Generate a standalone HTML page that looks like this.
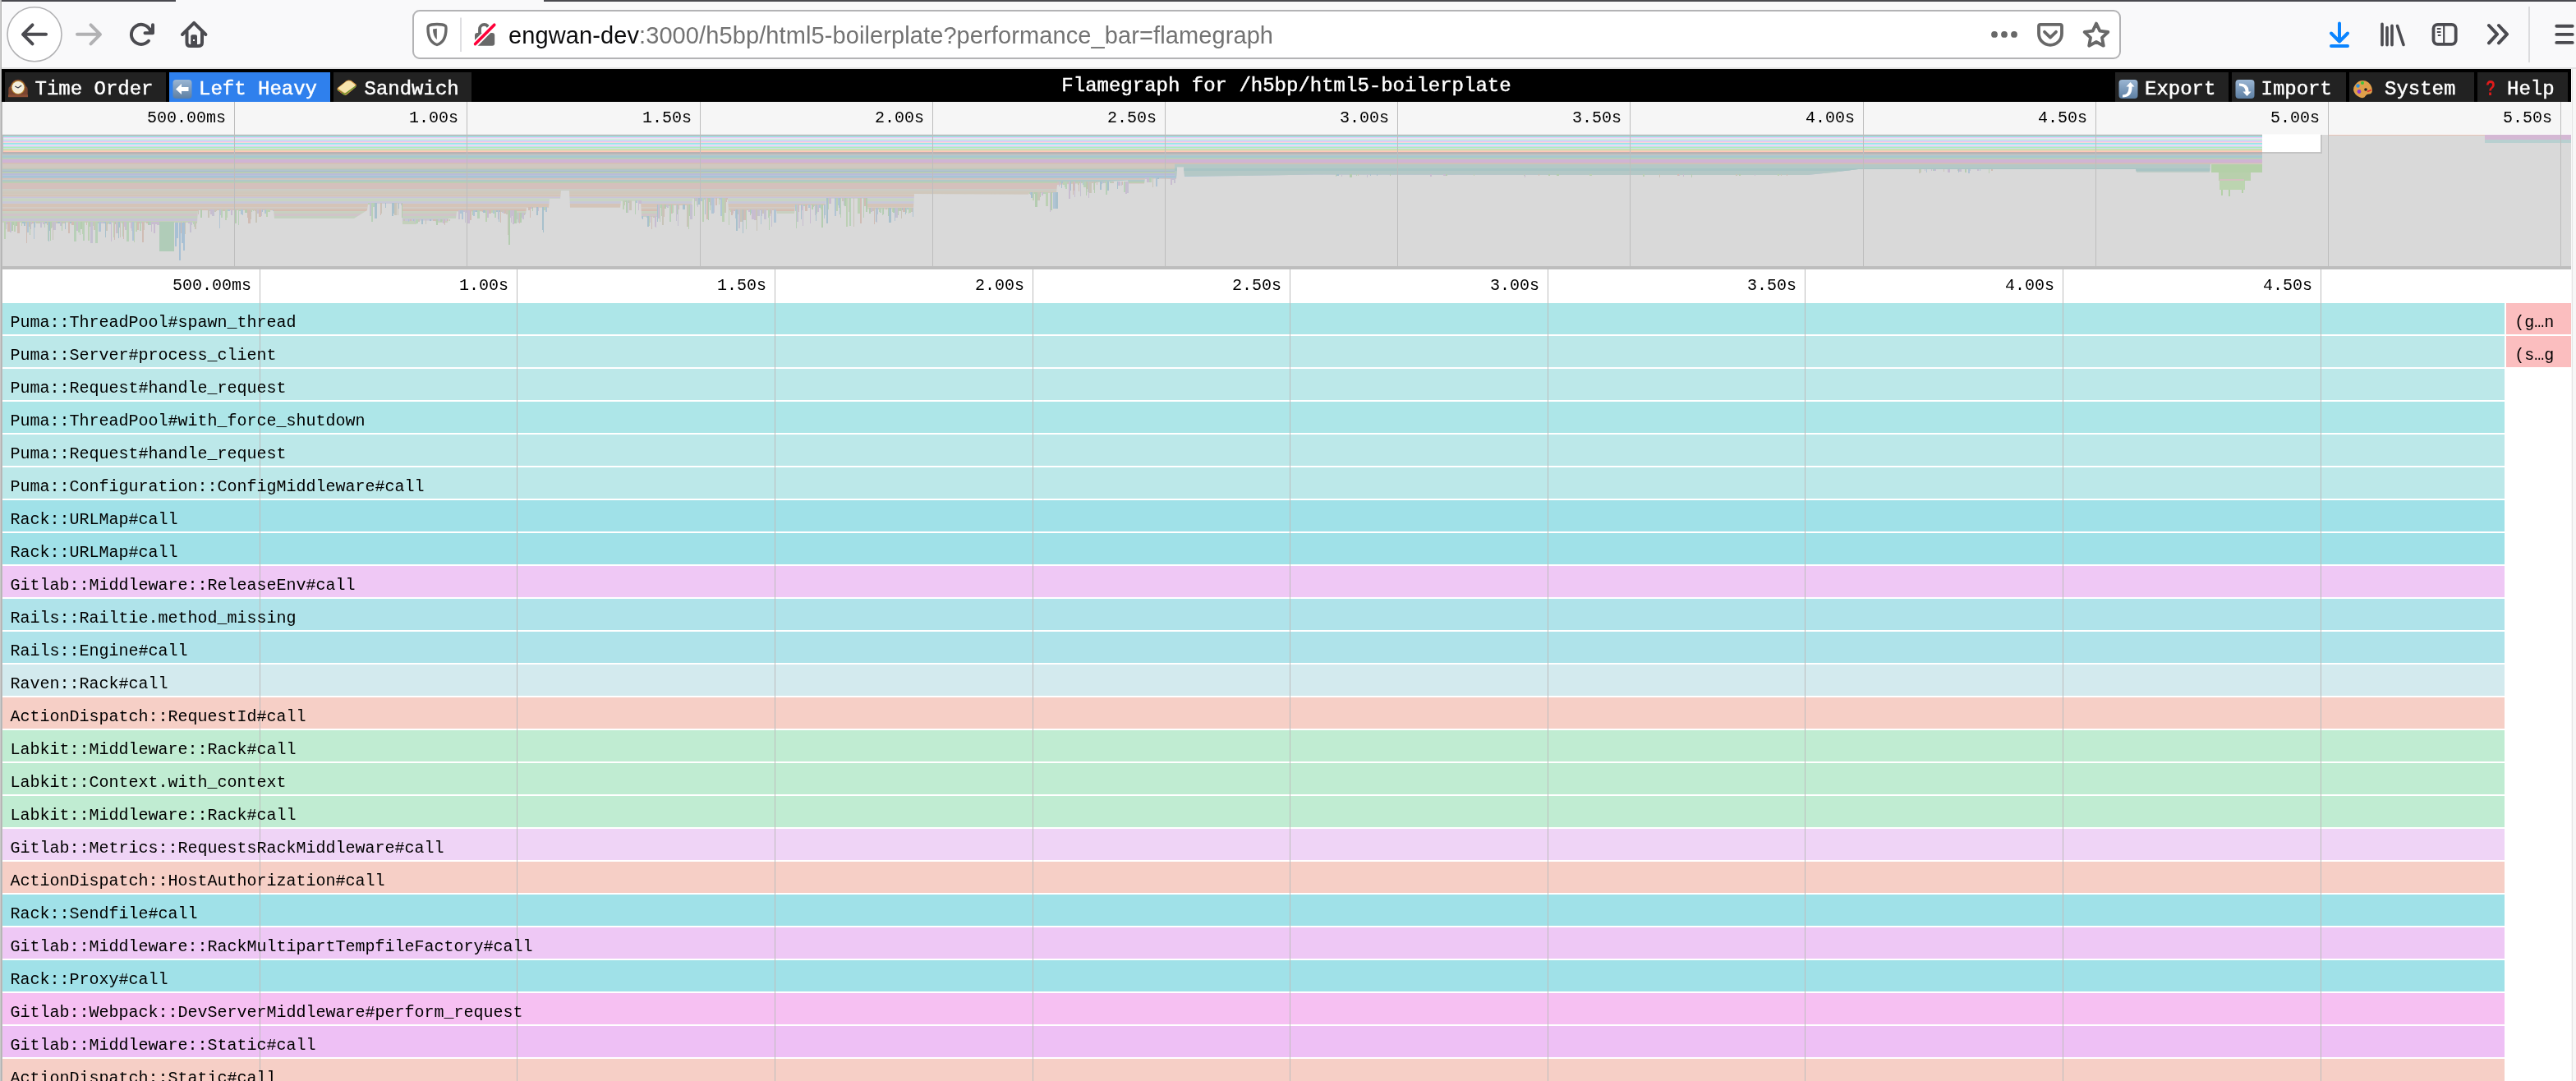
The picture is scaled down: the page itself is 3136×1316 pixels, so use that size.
<!DOCTYPE html><html><head><meta charset="utf-8"><title>Flamegraph</title>
<style>html,body{margin:0;padding:0;background:#f9f9fa;overflow:hidden;width:3136px;height:1316px}svg{display:block}</style>
</head><body>
<svg width="3136" height="1316" viewBox="0 0 3136 1316" shape-rendering="crispEdges">
<g>
<rect x="0" y="0" width="3136" height="84" fill="#f9f9fa"/>
<rect x="0" y="0" width="214" height="2" fill="#4a4a4f"/>
<rect x="662" y="0" width="2474" height="2" fill="#4a4a4f"/>
<rect x="0" y="82" width="3136" height="2" fill="#e1e1e2"/>
<g shape-rendering="geometricPrecision">
<circle cx="42" cy="41.8" r="33" fill="#ffffff" stroke="#b1b1b3" stroke-width="1.6"/>
<path d="M56 41.8 H29 M39.5 30.3 L28 41.8 L39.5 53.3" fill="none" stroke="#4b4b50" stroke-width="4" stroke-linecap="round" stroke-linejoin="round"/>
<path d="M94 41.8 H121 M110.5 30.3 L122 41.8 L110.5 53.3" fill="none" stroke="#b1b1b3" stroke-width="4" stroke-linecap="round" stroke-linejoin="round"/>
<path d="M180.96 49.77 A12 12 0 1 1 182.78 36.83" fill="none" stroke="#4b4b50" stroke-width="4" stroke-linecap="round"/>
<path d="M186 30.2 V40.3 H176.5" fill="none" stroke="#4b4b50" stroke-width="4" stroke-linecap="round" stroke-linejoin="round"/>
<path d="M182.2 35.2 L186 31.2 L186 40.5 L180.6 40.5 Z" fill="#4b4b50"/>
<path d="M222 42 L236.2 27.8 L250.4 42" fill="none" stroke="#4b4b50" stroke-width="4" stroke-linecap="round" stroke-linejoin="round"/>
<path d="M227.5 38 V52 Q227.5 56 231.5 56 H241 Q246 56 246 52 V38" fill="none" stroke="#4b4b50" stroke-width="4" stroke-linejoin="round"/>
<rect x="232.2" y="42.2" width="7.8" height="13" rx="2" fill="#4b4b50"/>
<rect x="235" y="48" width="2" height="2" fill="#f9f9fa"/>
</g>
<rect x="503" y="13" width="2078" height="58" rx="8" fill="#ffffff" stroke="#b3b3b5" stroke-width="2" shape-rendering="geometricPrecision"/>
<g shape-rendering="geometricPrecision">
<path d="M532 29.5 C527 29.5 523 30.5 521.7 31.5 C521.2 32 521 33 521 34.5 C521 44 524 52 532 54.5 C540 52 543 44 543 34.5 C543 33 542.8 32 542.3 31.5 C541 30.5 537 29.5 532 29.5 Z" fill="none" stroke="#686868" stroke-width="3.4" stroke-linejoin="round"/>
<path d="M531.8 34.8 L527 35.6 C527 41 528.5 45.5 531.8 48.2 Z" fill="#686868"/>
<rect x="560.2" y="21.5" width="1.6" height="41.5" fill="#d7d7db"/>
<path d="M584 42 V35.5 A5.6 5.6 0 0 1 595.2 35.5 V42" fill="none" stroke="#686868" stroke-width="3.8"/>
<rect x="578" y="40" width="24.2" height="15.8" rx="3" fill="#686868"/>
<path d="M578.6 53.6 L601.8 30.2" stroke="#ffffff" stroke-width="7.5" stroke-linecap="round"/>
<path d="M578.6 53.6 L601.8 30.2" stroke="#ff0039" stroke-width="3.6" stroke-linecap="round"/>
</g>
<g shape-rendering="geometricPrecision" fill="#686868">
<circle cx="2428" cy="41.9" r="3.9"/>
<circle cx="2440" cy="41.9" r="3.9"/>
<circle cx="2452" cy="41.9" r="3.9"/>
</g>
<g shape-rendering="geometricPrecision" fill="none" stroke="#686868" stroke-width="3.8" stroke-linecap="round" stroke-linejoin="round">
<path d="M2484 29.8 H2508 Q2510 29.8 2510 31.8 V41 A14 13.8 0 0 1 2482 41 V31.8 Q2482 29.8 2484 29.8 Z" transform="translate(0,0)"/>
<path d="M2489 38.8 L2496 45.6 L2503 38.8"/>
<path d="M2552.0,28.6 L2556.3,37.6 L2566.3,39.0 L2559.0,45.9 L2560.8,55.7 L2552.0,51.0 L2543.2,55.7 L2545.0,45.9 L2537.7,39.0 L2547.7,37.6 Z"/>
</g>
<g shape-rendering="geometricPrecision" fill="none" stroke-linecap="round" stroke-linejoin="round" stroke-width="4">
<path d="M2848 28.5 V50 M2838 40.5 L2848 50.5 L2858 40.5 M2838 56 H2858" stroke="#0a84ff"/>
<path d="M2900 29.3 V54.7 M2906 33.5 V54.7 M2912 31.2 V54.7 M2918.5 31.5 L2926 54.5" stroke="#4b4b50" stroke-width="3.6"/>
<rect x="2962.5" y="29.8" width="27.2" height="24" rx="5" stroke="#4b4b50" stroke-width="3.8"/>
<path d="M2975.2 30 V54" stroke="#4b4b50" stroke-width="2.2"/>
<path d="M2966.8 35 H2971.5 M2966.8 39 H2971.5 M2967.8 43 H2971.5" stroke="#4b4b50" stroke-width="1.8" stroke-linecap="butt"/>
<path d="M3030 31 L3040 41.7 L3030 52.4 M3042 31 L3052 41.7 L3042 52.4" stroke="#4b4b50" stroke-width="4"/>
</g>
<rect x="3078.3" y="8" width="1.4" height="68" fill="#dcdcde"/>
<g shape-rendering="geometricPrecision" stroke="#4b4b50" stroke-width="3.9" stroke-linecap="round"><path d="M3112.3 31.8 H3131.7 M3112.3 41.9 H3131.7 M3112.3 51.9 H3131.7"/></g>
<rect x="3130" y="84" width="6" height="1232" fill="#f7f7f7"/>
<rect x="3131" y="84" width="1" height="1232" fill="#e4e4e4"/>
<rect x="0" y="0" width="1" height="1316" fill="#cbcbcb"/>
<rect x="1" y="0" width="1" height="1316" fill="#b2b2b2"/>
<rect x="2" y="2" width="1" height="80" fill="#ffffff"/>
<rect x="2" y="124" width="1" height="1192" fill="#bdbdbd"/>
<rect x="2" y="84" width="3128" height="40" fill="#000000"/>
<rect x="6" y="88" width="196" height="36" fill="#222222"/>
<rect x="206" y="88" width="196" height="36" fill="#2f80ed"/>
<rect x="406" y="88" width="168" height="36" fill="#222222"/>
<rect x="2575" y="88" width="138" height="36" fill="#222222"/>
<rect x="2717" y="88" width="139" height="36" fill="#222222"/>
<rect x="2860" y="88" width="152" height="36" fill="#222222"/>
<rect x="3016" y="88" width="110" height="36" fill="#222222"/>
<g shape-rendering="geometricPrecision" transform="translate(10,96.5)"><path d="M0.3 21.6 V12 Q0.3 9.5 2 8.8 L3 7.2 Q5.5 0.4 12 0.2 Q18.5 0.4 21 7.2 L22 8.8 Q23.7 9.5 23.7 12 V21.6 Z" fill="#7a4530"/><rect x="0" y="18.8" width="24" height="2.9" fill="#8c4f36"/><circle cx="12" cy="10" r="8.4" fill="#b8862c"/><circle cx="12" cy="10" r="7.4" fill="#f3eedc"/><path d="M12 10.6 L8.3 8.4 M12 10.6 L16.2 7.6" stroke="#3a3c48" stroke-width="1.2" fill="none"/></g>
<g shape-rendering="geometricPrecision" transform="translate(210,96.5)"><defs><linearGradient id="bgleft" x1="0" y1="0" x2="0" y2="1"><stop offset="0" stop-color="#9bb6d3"/><stop offset="1" stop-color="#5d7fa3"/></linearGradient></defs><rect x="0.5" y="0.5" width="23" height="23" rx="4" fill="url(#bgleft)"/><path d="M4 12 L11 5.5 V9.5 H19.5 V14.5 H11 V18.5 Z" fill="#ffffff"/></g>
<g shape-rendering="geometricPrecision" transform="translate(410,96.5)"><path d="M0.8 10.5 L11.5 2 Q14.5 0 17.5 1.6 L23 5.8 Q24.6 7.6 23.2 9.6 L12.6 18.6 Q10.4 20.2 8.2 18.8 L1.6 14 Q-0.4 12.4 0.8 10.5 Z" fill="#d89a48"/><path d="M2.2 10.2 L12 2.6 Q14.6 1.2 17 2.6 L21.8 6.2 Q22.8 7.6 21.6 8.8 L11.8 15.8 Q10 17 8.2 15.8 L2.6 12 Q1.4 11.2 2.2 10.2 Z" fill="#f7e4ae"/><path d="M1.6 13.2 L9.6 18.4 L23 8.6" stroke="#5f9a34" stroke-width="1.3" fill="none"/><path d="M3 14.6 L6 16.6" stroke="#d24a3a" stroke-width="1" fill="none"/></g>
<g shape-rendering="geometricPrecision" transform="translate(2579,96.5)"><defs><linearGradient id="bgexport" x1="0" y1="0" x2="0" y2="1"><stop offset="0" stop-color="#9bb6d3"/><stop offset="1" stop-color="#5d7fa3"/></linearGradient></defs><rect x="0.5" y="0.5" width="23" height="23" rx="4" fill="url(#bgexport)"/><path d="M5 19 Q12 19 12.5 11 L12.5 9 L9.5 9 L14.5 3.5 L19.5 9 L16.5 9 L16.5 11 Q16 22 5 22 Z" fill="#ffffff"/></g>
<g shape-rendering="geometricPrecision" transform="translate(2721,96.5)"><defs><linearGradient id="bgimport" x1="0" y1="0" x2="0" y2="1"><stop offset="0" stop-color="#9bb6d3"/><stop offset="1" stop-color="#5d7fa3"/></linearGradient></defs><rect x="0.5" y="0.5" width="23" height="23" rx="4" fill="url(#bgimport)"/><path d="M5 5 Q16 5 16.5 14 L16.5 15 L19.5 15 L14.5 20.5 L9.5 15 L12.5 15 L12.5 14 Q12 8 5 8 Z" fill="#ffffff"/></g>
<g shape-rendering="geometricPrecision" transform="translate(2864,96.5)"><path d="M3 7 Q8 0 16 2 Q23 5 24 13 Q24 18 20 18 Q17 18 16 20 Q14 24 9 22 Q2 19 1 13 Q1 9 3 7 Z" fill="#e0a04a"/><circle cx="6.5" cy="8" r="2.2" fill="#2f8fe0"/><circle cx="12" cy="4.5" r="2" fill="#3cc43c"/><circle cx="8" cy="15" r="2.4" fill="#8a3ad0"/><circle cx="16" cy="12.5" r="1.8" fill="#222"/><path d="M18 15 L23 13" stroke="#e03030" stroke-width="1.5"/></g>
<g shape-rendering="geometricPrecision" transform="translate(3026,96.5)"></g>
<rect x="3" y="124" width="3127" height="40" fill="#f6f6f6"/>
<rect x="3" y="163" width="3127" height="1" fill="#fbfbfb"/>
<rect x="3" y="164" width="3127" height="160" fill="#d9d9d9"/>
<rect x="3" y="164" width="2823" height="22" fill="#ffffff"/>
<rect x="3" y="163.8" width="2751" height="2.0" fill="#b0b8b8" shape-rendering="geometricPrecision"/>
<rect x="3" y="165.8" width="2751" height="1.2" fill="#98e4e8" shape-rendering="geometricPrecision"/>
<rect x="3" y="167.0" width="2751" height="1.3" fill="#f0c8f4" shape-rendering="geometricPrecision"/>
<rect x="3" y="168.3" width="2751" height="0.8" fill="#d8ecf0" shape-rendering="geometricPrecision"/>
<rect x="3" y="169.1" width="2751" height="0.8" fill="#c0ecd0" shape-rendering="geometricPrecision"/>
<rect x="3" y="169.9" width="2751" height="0.9" fill="#e8d4f0" shape-rendering="geometricPrecision"/>
<rect x="3" y="170.8" width="2751" height="1.0" fill="#98e0e8" shape-rendering="geometricPrecision"/>
<rect x="3" y="171.8" width="2751" height="1.4" fill="#f8c0f0" shape-rendering="geometricPrecision"/>
<rect x="3" y="173.2" width="2751" height="0.7" fill="#f8d0c8" shape-rendering="geometricPrecision"/>
<rect x="3" y="173.9" width="2751" height="2.0" fill="#98e4e8" shape-rendering="geometricPrecision"/>
<rect x="3" y="175.9" width="2751" height="0.8" fill="#d0ecf0" shape-rendering="geometricPrecision"/>
<rect x="3" y="176.7" width="2751" height="1.3" fill="#f0ccf4" shape-rendering="geometricPrecision"/>
<rect x="3" y="178.0" width="2751" height="0.8" fill="#b0e0f0" shape-rendering="geometricPrecision"/>
<rect x="3" y="178.8" width="2751" height="1.2" fill="#b0ecb8" shape-rendering="geometricPrecision"/>
<rect x="3" y="180.0" width="2751" height="0.9" fill="#b0e4f0" shape-rendering="geometricPrecision"/>
<rect x="3" y="180.9" width="2751" height="1.0" fill="#f8d0c0" shape-rendering="geometricPrecision"/>
<rect x="3" y="181.9" width="2751" height="1.2" fill="#a8e8a0" shape-rendering="geometricPrecision"/>
<rect x="3" y="183.1" width="2751" height="1.9" fill="#fcc8b8" shape-rendering="geometricPrecision"/>
<defs><clipPath id="prof"><path d="M3,185 L3,271.0 L194,271.0 L240,271.0 L241,256.0 L333,256.0 L334,266.0 L431,266.0 L447,256.0 L448,248.0 L489,248.0 L490,273.0 L507,273.0 L508,268.5 L530,268.5 L531,271.0 L545,271.0 L546,266.0 L555,266.0 L556,257.6 L628,257.6 L629,260.7 L640,260.7 L641,253.0 L668,253.0 L669,242.0 L682,242.0 L683,232.0 L693,232.0 L694,253.0 L755,253.0 L756,245.0 L780,245.0 L781,264.0 L800,264.0 L801,250.0 L842,250.0 L843,242.0 L886,242.0 L887,256.0 L945,256.0 L946,260.0 L967,260.0 L968,250.0 L1005,250.0 L1006,242.0 L1055,242.0 L1056,254.5 L1112,254.5 L1113,236.0 L1252,236.7 L1253,235.0 L1286,235.0 L1287,225.0 L1373,219.6 L1374,223.5 L1393,223.5 L1394,217.3 L1432,218.0 L1433,203.3 L1441,203.3 L1442,215.0 L1600,212.6 L2200,213.0 L2230,210.0 L2262,206.0 L2600,206.0 L2601,209.5 L2690,209.5 L2691,199.5 L2754,199.5 L2754,185.0 L3,185 Z"/></clipPath></defs>
<g clip-path="url(#prof)" shape-rendering="geometricPrecision">
<rect x="3" y="185.0" width="2751" height="2.0" fill="#bcb0b0"/>
<rect x="3" y="187.0" width="2751" height="1.1" fill="#a8c4c8"/>
<rect x="3" y="188.1" width="2751" height="1.0" fill="#d0bcb8"/>
<rect x="3" y="189.1" width="2751" height="3.1" fill="#a8c8d0"/>
<rect x="3" y="192.2" width="2751" height="1.6" fill="#b0d0b0"/>
<rect x="3" y="193.8" width="2751" height="4.2" fill="#d0b4d4"/>
<rect x="3" y="198.0" width="2751" height="1.8" fill="#d4bcb4"/>
<rect x="3" y="199.8" width="2751" height="4.6" fill="#d0c8c0"/>
<rect x="3" y="204.4" width="2751" height="1.4" fill="#c8c0b0"/>
<rect x="3" y="205.8" width="2751" height="1.6" fill="#b0c8c4"/>
<rect x="3" y="207.4" width="2751" height="1.6" fill="#a8bcd0"/>
<rect x="3" y="209.0" width="2751" height="1.9" fill="#b8ccb0"/>
<rect x="3" y="210.9" width="2751" height="2.8" fill="#b8bcd8"/>
<rect x="3" y="213.7" width="2751" height="3.2" fill="#a8c4d4"/>
<rect x="3" y="216.9" width="2751" height="1.8" fill="#d8c0b8"/>
<rect x="3" y="218.7" width="2751" height="2.3" fill="#b0c8c8"/>
<rect x="3" y="221.0" width="2751" height="1.9" fill="#b8ccb0"/>
<rect x="3" y="222.9" width="2751" height="7.4" fill="#d4c0bc"/>
<rect x="3" y="230.3" width="2751" height="1.9" fill="#c8ccc4"/>
<rect x="3" y="232.2" width="2751" height="4.6" fill="#d0c8bc"/>
<rect x="3" y="236.8" width="2751" height="2.8" fill="#d4c4b8"/>
<rect x="3" y="239.6" width="2751" height="1.8" fill="#c8c4d8"/>
<rect x="3" y="241.4" width="2751" height="3.7" fill="#c8d4c4"/>
<rect x="3" y="245.1" width="2751" height="2.8" fill="#c8c8d8"/>
<rect x="3" y="247.9" width="2751" height="4.6" fill="#d4c4b8"/>
<rect x="3" y="252.5" width="2751" height="1.9" fill="#d0c8c0"/>
<rect x="3" y="254.4" width="2751" height="2.7" fill="#d4bcb0"/>
<rect x="3" y="257.1" width="2751" height="2.9" fill="#c8d0c0"/>
<rect x="3" y="260.0" width="2751" height="3.0" fill="#d0c4c8"/>
<rect x="3" y="263.0" width="2751" height="3.0" fill="#c4d0c0"/>
<rect x="3" y="266.0" width="2751" height="3.0" fill="#c8c4d4"/>
<rect x="3" y="269.0" width="2751" height="4.0" fill="#c4d0bc"/>
<rect x="3" y="273.0" width="2751" height="7.0" fill="#b8ccb8"/>
<rect x="3" y="280.0" width="2751" height="20.0" fill="#b0ccb0"/>
<rect x="1430" y="199.8" width="1324" height="14.5" fill="#b4c8c6"/>
<rect x="1430" y="205" width="1324" height="3" fill="#a8c4c4"/>
</g>
<g shape-rendering="crispEdges">
<rect x="5" y="270" width="2" height="21" fill="#bcd0b4"/>
<rect x="7" y="270" width="1" height="9" fill="#c4c0d0"/>
<rect x="8" y="270" width="1" height="3" fill="#c8bcd0"/>
<rect x="9" y="270" width="3" height="12" fill="#d0bcb4"/>
<rect x="12" y="270" width="2" height="13" fill="#c4c0d0"/>
<rect x="14" y="270" width="2" height="11" fill="#b4ccb0"/>
<rect x="16" y="270" width="1" height="4" fill="#b4ccb0"/>
<rect x="17" y="270" width="2" height="12" fill="#bcd0b4"/>
<rect x="19" y="270" width="2" height="5" fill="#b4ccb0"/>
<rect x="21" y="270" width="3" height="14" fill="#d0bcb4"/>
<rect x="26" y="270" width="1" height="5" fill="#bcd0b4"/>
<rect x="27" y="270" width="2" height="2" fill="#a8c0cc"/>
<rect x="29" y="270" width="2" height="5" fill="#a8c0cc"/>
<rect x="31" y="270" width="1" height="2" fill="#bcd0b4"/>
<rect x="32" y="270" width="1" height="26" fill="#d0bcb4"/>
<rect x="33" y="270" width="2" height="13" fill="#b0c4d4"/>
<rect x="35" y="270" width="1" height="6" fill="#d0bcb4"/>
<rect x="36" y="270" width="1" height="16" fill="#b4ccb0"/>
<rect x="37" y="270" width="1" height="9" fill="#c8bcd0"/>
<rect x="38" y="270" width="1" height="3" fill="#c4c0d0"/>
<rect x="39" y="270" width="2" height="2" fill="#d0bcb4"/>
<rect x="41" y="270" width="1" height="21" fill="#b0c4d4"/>
<rect x="42" y="270" width="1" height="7" fill="#a8c0cc"/>
<rect x="44" y="270" width="1" height="2" fill="#c8c4b8"/>
<rect x="45" y="270" width="1" height="2" fill="#bcd0b4"/>
<rect x="46" y="270" width="2" height="2" fill="#c8c4b8"/>
<rect x="48" y="270" width="1" height="2" fill="#b8d0b8"/>
<rect x="49" y="270" width="2" height="7" fill="#c4c0d0"/>
<rect x="52" y="270" width="2" height="3" fill="#c8bcd0"/>
<rect x="54" y="270" width="1" height="7" fill="#b8d0b8"/>
<rect x="55" y="270" width="2" height="2" fill="#a8c0cc"/>
<rect x="57" y="270" width="1" height="4" fill="#d0bcb4"/>
<rect x="58" y="270" width="1" height="23" fill="#b8d0b8"/>
<rect x="59" y="270" width="1" height="24" fill="#a8c0cc"/>
<rect x="60" y="270" width="1" height="11" fill="#a8c0cc"/>
<rect x="61" y="270" width="1" height="23" fill="#b4ccb0"/>
<rect x="62" y="270" width="1" height="8" fill="#b4ccb0"/>
<rect x="63" y="270" width="1" height="7" fill="#c4c0d0"/>
<rect x="64" y="270" width="1" height="22" fill="#c8c4b8"/>
<rect x="65" y="270" width="3" height="10" fill="#c4c0d0"/>
<rect x="68" y="270" width="2" height="2" fill="#c8c4b8"/>
<rect x="70" y="270" width="3" height="2" fill="#a8c0cc"/>
<rect x="73" y="270" width="2" height="5" fill="#c4c0d0"/>
<rect x="75" y="270" width="1" height="11" fill="#b4ccb0"/>
<rect x="76" y="270" width="3" height="2" fill="#c8c4b8"/>
<rect x="79" y="270" width="1" height="9" fill="#a8c0cc"/>
<rect x="83" y="270" width="2" height="14" fill="#d0bcb4"/>
<rect x="85" y="270" width="2" height="2" fill="#a8c0cc"/>
<rect x="87" y="270" width="3" height="4" fill="#d0bcb4"/>
<rect x="90" y="270" width="3" height="24" fill="#b8d0b8"/>
<rect x="93" y="270" width="2" height="11" fill="#c8bcd0"/>
<rect x="95" y="270" width="2" height="13" fill="#b8d0b8"/>
<rect x="97" y="270" width="1" height="16" fill="#b8d0b8"/>
<rect x="98" y="270" width="2" height="9" fill="#b4ccb0"/>
<rect x="100" y="270" width="1" height="15" fill="#bcd0b4"/>
<rect x="101" y="270" width="2" height="23" fill="#b8d0b8"/>
<rect x="105" y="270" width="1" height="4" fill="#d0bcb4"/>
<rect x="107" y="270" width="2" height="23" fill="#bcd0b4"/>
<rect x="109" y="270" width="1" height="6" fill="#b4ccb0"/>
<rect x="110" y="270" width="3" height="26" fill="#c4c0d0"/>
<rect x="113" y="270" width="1" height="5" fill="#bcd0b4"/>
<rect x="114" y="270" width="2" height="10" fill="#c8c4b8"/>
<rect x="116" y="270" width="3" height="26" fill="#b8d0b8"/>
<rect x="119" y="270" width="1" height="2" fill="#b4ccb0"/>
<rect x="120" y="270" width="3" height="12" fill="#b0c4d4"/>
<rect x="123" y="270" width="3" height="2" fill="#c4c0d0"/>
<rect x="126" y="270" width="2" height="2" fill="#b0c4d4"/>
<rect x="128" y="270" width="1" height="19" fill="#a8c0cc"/>
<rect x="129" y="270" width="2" height="11" fill="#c8c4b8"/>
<rect x="131" y="270" width="1" height="3" fill="#b8d0b8"/>
<rect x="132" y="270" width="1" height="2" fill="#b8d0b8"/>
<rect x="133" y="270" width="2" height="3" fill="#b0c4d4"/>
<rect x="135" y="270" width="1" height="24" fill="#c8bcd0"/>
<rect x="138" y="270" width="1" height="19" fill="#bcd0b4"/>
<rect x="139" y="270" width="1" height="22" fill="#d0bcb4"/>
<rect x="140" y="270" width="1" height="3" fill="#b4ccb0"/>
<rect x="141" y="270" width="2" height="14" fill="#c8bcd0"/>
<rect x="143" y="270" width="1" height="14" fill="#bcd0b4"/>
<rect x="144" y="270" width="1" height="20" fill="#a8c0cc"/>
<rect x="145" y="270" width="1" height="7" fill="#a8c0cc"/>
<rect x="146" y="270" width="1" height="19" fill="#c8c4b8"/>
<rect x="148" y="270" width="1" height="2" fill="#b8d0b8"/>
<rect x="149" y="270" width="1" height="18" fill="#b8d0b8"/>
<rect x="150" y="270" width="1" height="21" fill="#d0bcb4"/>
<rect x="151" y="270" width="1" height="6" fill="#c4c0d0"/>
<rect x="152" y="270" width="2" height="10" fill="#c8bcd0"/>
<rect x="154" y="270" width="3" height="24" fill="#b8d0b8"/>
<rect x="159" y="270" width="1" height="8" fill="#c8bcd0"/>
<rect x="160" y="270" width="1" height="11" fill="#c4c0d0"/>
<rect x="161" y="270" width="2" height="23" fill="#b0c4d4"/>
<rect x="163" y="270" width="1" height="25" fill="#bcd0b4"/>
<rect x="165" y="270" width="2" height="12" fill="#bcd0b4"/>
<rect x="167" y="270" width="2" height="10" fill="#d0bcb4"/>
<rect x="169" y="270" width="1" height="2" fill="#d0bcb4"/>
<rect x="170" y="270" width="2" height="11" fill="#b8d0b8"/>
<rect x="172" y="270" width="1" height="2" fill="#c8bcd0"/>
<rect x="173" y="270" width="2" height="25" fill="#d0bcb4"/>
<rect x="175" y="270" width="1" height="10" fill="#c8c4b8"/>
<rect x="178" y="270" width="2" height="2" fill="#d0bcb4"/>
<rect x="180" y="270" width="2" height="4" fill="#b4ccb0"/>
<rect x="182" y="270" width="1" height="4" fill="#b0c4d4"/>
<rect x="183" y="270" width="1" height="4" fill="#b8d0b8"/>
<rect x="184" y="270" width="1" height="12" fill="#c8bcd0"/>
<rect x="185" y="270" width="2" height="3" fill="#c8bcd0"/>
<rect x="187" y="270" width="2" height="14" fill="#c8bcd0"/>
<rect x="189" y="270" width="2" height="3" fill="#c8bcd0"/>
<rect x="191" y="270" width="3" height="4" fill="#c8bcd0"/>
<rect x="214" y="270" width="1" height="30" fill="#c8c4b8"/>
<rect x="215" y="270" width="1" height="9" fill="#bcd0b4"/>
<rect x="220" y="270" width="1" height="14" fill="#d0bcb4"/>
<rect x="223" y="270" width="1" height="23" fill="#b4ccb0"/>
<rect x="224" y="270" width="1" height="26" fill="#c8c4b8"/>
<rect x="225" y="270" width="1" height="15" fill="#c8c4b8"/>
<rect x="229" y="270" width="2" height="2" fill="#c8bcd0"/>
<rect x="231" y="270" width="2" height="13" fill="#c4c0d0"/>
<rect x="233" y="270" width="1" height="4" fill="#c4c0d0"/>
<rect x="235" y="270" width="1" height="3" fill="#b8d0b8"/>
<rect x="236" y="270" width="1" height="6" fill="#b8d0b8"/>
<rect x="237" y="270" width="2" height="9" fill="#c8c4b8"/>
<rect x="239" y="270" width="1" height="2" fill="#bcd0b4"/>
<rect x="241" y="255" width="1" height="6" fill="#c8c4b8"/>
<rect x="244" y="255" width="2" height="10" fill="#b4ccb0"/>
<rect x="253" y="255" width="2" height="10" fill="#c8c4b8"/>
<rect x="255" y="255" width="1" height="2" fill="#c4c0d0"/>
<rect x="256" y="255" width="2" height="6" fill="#c8bcd0"/>
<rect x="258" y="255" width="3" height="8" fill="#c4c0d0"/>
<rect x="261" y="255" width="2" height="3" fill="#c8c4b8"/>
<rect x="263" y="255" width="1" height="2" fill="#c8c4b8"/>
<rect x="267" y="255" width="1" height="23" fill="#b0c4d4"/>
<rect x="268" y="255" width="1" height="7" fill="#c4c0d0"/>
<rect x="269" y="255" width="2" height="10" fill="#b8d0b8"/>
<rect x="271" y="255" width="3" height="2" fill="#d0bcb4"/>
<rect x="274" y="255" width="2" height="13" fill="#bcd0b4"/>
<rect x="276" y="255" width="1" height="10" fill="#bcd0b4"/>
<rect x="277" y="255" width="3" height="2" fill="#b0c4d4"/>
<rect x="281" y="255" width="2" height="7" fill="#c8bcd0"/>
<rect x="285" y="255" width="1" height="19" fill="#a8c0cc"/>
<rect x="286" y="255" width="2" height="17" fill="#b4ccb0"/>
<rect x="290" y="255" width="1" height="19" fill="#b8d0b8"/>
<rect x="291" y="255" width="2" height="2" fill="#b8d0b8"/>
<rect x="293" y="255" width="2" height="6" fill="#b0c4d4"/>
<rect x="295" y="255" width="1" height="7" fill="#b0c4d4"/>
<rect x="298" y="255" width="3" height="4" fill="#b4ccb0"/>
<rect x="301" y="255" width="1" height="10" fill="#d0bcb4"/>
<rect x="302" y="255" width="3" height="17" fill="#d0bcb4"/>
<rect x="305" y="255" width="1" height="12" fill="#c8c4b8"/>
<rect x="306" y="255" width="1" height="3" fill="#b8d0b8"/>
<rect x="308" y="255" width="1" height="2" fill="#b8d0b8"/>
<rect x="310" y="255" width="1" height="2" fill="#d0bcb4"/>
<rect x="311" y="255" width="2" height="16" fill="#c8c4b8"/>
<rect x="313" y="255" width="2" height="5" fill="#c4c0d0"/>
<rect x="315" y="255" width="3" height="9" fill="#d0bcb4"/>
<rect x="318" y="255" width="1" height="8" fill="#c4c0d0"/>
<rect x="319" y="255" width="1" height="3" fill="#a8c0cc"/>
<rect x="322" y="255" width="2" height="5" fill="#b0c4d4"/>
<rect x="324" y="255" width="2" height="9" fill="#bcd0b4"/>
<rect x="326" y="255" width="3" height="3" fill="#bcd0b4"/>
<rect x="332" y="255" width="1" height="2" fill="#b0c4d4"/>
<rect x="448" y="247" width="2" height="2" fill="#bcd0b4"/>
<rect x="450" y="247" width="2" height="16" fill="#c4c0d0"/>
<rect x="452" y="247" width="2" height="23" fill="#b8d0b8"/>
<rect x="454" y="247" width="2" height="5" fill="#b8d0b8"/>
<rect x="456" y="247" width="3" height="19" fill="#a8c0cc"/>
<rect x="463" y="247" width="1" height="15" fill="#d0bcb4"/>
<rect x="464" y="247" width="1" height="13" fill="#c8c4b8"/>
<rect x="469" y="247" width="1" height="6" fill="#a8c0cc"/>
<rect x="477" y="247" width="2" height="16" fill="#a8c0cc"/>
<rect x="479" y="247" width="1" height="13" fill="#a8c0cc"/>
<rect x="480" y="247" width="3" height="15" fill="#c8c4b8"/>
<rect x="484" y="247" width="1" height="15" fill="#c8c4b8"/>
<rect x="485" y="247" width="1" height="7" fill="#b0c4d4"/>
<rect x="488" y="247" width="1" height="3" fill="#c8bcd0"/>
<rect x="489" y="247" width="1" height="18" fill="#b4ccb0"/>
<rect x="491" y="267" width="2" height="2" fill="#c8c4b8"/>
<rect x="497" y="267" width="1" height="3" fill="#b0c4d4"/>
<rect x="498" y="267" width="1" height="2" fill="#c4c0d0"/>
<rect x="499" y="267" width="2" height="2" fill="#d0bcb4"/>
<rect x="503" y="267" width="1" height="2" fill="#a8c0cc"/>
<rect x="504" y="267" width="1" height="4" fill="#c4c0d0"/>
<rect x="506" y="267" width="3" height="5" fill="#b8d0b8"/>
<rect x="509" y="267" width="2" height="3" fill="#c8c4b8"/>
<rect x="513" y="267" width="2" height="6" fill="#a8c0cc"/>
<rect x="518" y="267" width="1" height="6" fill="#c8c4b8"/>
<rect x="523" y="267" width="2" height="2" fill="#a8c0cc"/>
<rect x="527" y="267" width="1" height="2" fill="#d0bcb4"/>
<rect x="528" y="267" width="3" height="2" fill="#d0bcb4"/>
<rect x="531" y="267" width="2" height="7" fill="#b4ccb0"/>
<rect x="533" y="267" width="2" height="2" fill="#c4c0d0"/>
<rect x="536" y="267" width="2" height="3" fill="#b4ccb0"/>
<rect x="538" y="267" width="1" height="2" fill="#bcd0b4"/>
<rect x="539" y="267" width="2" height="5" fill="#c8bcd0"/>
<rect x="541" y="267" width="1" height="7" fill="#d0bcb4"/>
<rect x="544" y="267" width="2" height="2" fill="#d0bcb4"/>
<rect x="547" y="267" width="1" height="2" fill="#b4ccb0"/>
<rect x="558" y="256" width="2" height="11" fill="#c4c0d0"/>
<rect x="560" y="256" width="2" height="4" fill="#b0c4d4"/>
<rect x="562" y="256" width="2" height="11" fill="#b0c4d4"/>
<rect x="564" y="256" width="2" height="2" fill="#c4c0d0"/>
<rect x="566" y="256" width="1" height="15" fill="#c4c0d0"/>
<rect x="567" y="256" width="1" height="3" fill="#c8bcd0"/>
<rect x="569" y="256" width="3" height="16" fill="#c8bcd0"/>
<rect x="572" y="256" width="2" height="12" fill="#d0bcb4"/>
<rect x="575" y="256" width="1" height="6" fill="#b4ccb0"/>
<rect x="576" y="256" width="2" height="7" fill="#b0c4d4"/>
<rect x="578" y="256" width="1" height="2" fill="#b0c4d4"/>
<rect x="579" y="256" width="2" height="2" fill="#a8c0cc"/>
<rect x="581" y="256" width="3" height="10" fill="#b8d0b8"/>
<rect x="587" y="256" width="1" height="2" fill="#d0bcb4"/>
<rect x="588" y="256" width="3" height="3" fill="#a8c0cc"/>
<rect x="591" y="256" width="2" height="14" fill="#bcd0b4"/>
<rect x="593" y="256" width="2" height="9" fill="#c8bcd0"/>
<rect x="595" y="256" width="3" height="4" fill="#d0bcb4"/>
<rect x="598" y="256" width="2" height="3" fill="#bcd0b4"/>
<rect x="600" y="256" width="2" height="4" fill="#b0c4d4"/>
<rect x="602" y="256" width="2" height="9" fill="#b8d0b8"/>
<rect x="604" y="256" width="2" height="2" fill="#a8c0cc"/>
<rect x="606" y="256" width="1" height="11" fill="#c4c0d0"/>
<rect x="607" y="256" width="1" height="14" fill="#a8c0cc"/>
<rect x="608" y="256" width="1" height="2" fill="#a8c0cc"/>
<rect x="609" y="256" width="2" height="2" fill="#d0bcb4"/>
<rect x="611" y="256" width="2" height="3" fill="#c4c0d0"/>
<rect x="613" y="256" width="3" height="4" fill="#d0bcb4"/>
<rect x="616" y="256" width="2" height="5" fill="#c8c4b8"/>
<rect x="618" y="256" width="1" height="9" fill="#b4ccb0"/>
<rect x="619" y="256" width="1" height="4" fill="#b8d0b8"/>
<rect x="620" y="256" width="1" height="3" fill="#c8c4b8"/>
<rect x="621" y="256" width="1" height="9" fill="#c4c0d0"/>
<rect x="622" y="256" width="1" height="15" fill="#c8bcd0"/>
<rect x="623" y="256" width="1" height="7" fill="#c4c0d0"/>
<rect x="624" y="256" width="2" height="17" fill="#c8bcd0"/>
<rect x="626" y="256" width="3" height="16" fill="#b4ccb0"/>
<rect x="609" y="256" width="1" height="15" fill="#d0bcb4"/>
<rect x="610" y="256" width="3" height="2" fill="#c8c4b8"/>
<rect x="613" y="256" width="1" height="3" fill="#c4c0d0"/>
<rect x="618" y="256" width="1" height="30" fill="#c8c4b8"/>
<rect x="619" y="256" width="2" height="42" fill="#b4ccb0"/>
<rect x="629" y="259" width="1" height="8" fill="#c4c0d0"/>
<rect x="630" y="259" width="1" height="12" fill="#b8d0b8"/>
<rect x="631" y="259" width="1" height="12" fill="#c4c0d0"/>
<rect x="632" y="259" width="1" height="13" fill="#d0bcb4"/>
<rect x="633" y="259" width="2" height="12" fill="#b4ccb0"/>
<rect x="635" y="259" width="1" height="6" fill="#c4c0d0"/>
<rect x="636" y="259" width="2" height="8" fill="#c4c0d0"/>
<rect x="638" y="259" width="1" height="3" fill="#c8c4b8"/>
<rect x="639" y="259" width="1" height="2" fill="#c4c0d0"/>
<rect x="643" y="252" width="2" height="4" fill="#d0bcb4"/>
<rect x="645" y="252" width="1" height="13" fill="#d0bcb4"/>
<rect x="646" y="252" width="2" height="2" fill="#c8bcd0"/>
<rect x="648" y="252" width="1" height="5" fill="#b4ccb0"/>
<rect x="653" y="252" width="2" height="10" fill="#a8c0cc"/>
<rect x="655" y="252" width="1" height="5" fill="#c8bcd0"/>
<rect x="662" y="252" width="2" height="4" fill="#bcd0b4"/>
<rect x="660" y="252" width="1" height="28" fill="#a8c0cc"/>
<rect x="661" y="252" width="1" height="31" fill="#a8c0cc"/>
<rect x="664" y="252" width="2" height="6" fill="#b0c4d4"/>
<rect x="758" y="244" width="2" height="11" fill="#bcd0b4"/>
<rect x="760" y="244" width="1" height="6" fill="#c8c4b8"/>
<rect x="761" y="244" width="1" height="2" fill="#b8d0b8"/>
<rect x="762" y="244" width="1" height="15" fill="#b4ccb0"/>
<rect x="763" y="244" width="1" height="15" fill="#b8d0b8"/>
<rect x="764" y="244" width="1" height="15" fill="#c8bcd0"/>
<rect x="765" y="244" width="1" height="3" fill="#b4ccb0"/>
<rect x="766" y="244" width="3" height="12" fill="#c8c4b8"/>
<rect x="773" y="244" width="1" height="17" fill="#b8d0b8"/>
<rect x="774" y="244" width="2" height="3" fill="#b0c4d4"/>
<rect x="777" y="244" width="1" height="12" fill="#c8bcd0"/>
<rect x="778" y="244" width="3" height="4" fill="#c8bcd0"/>
<rect x="781" y="263" width="1" height="3" fill="#b0c4d4"/>
<rect x="782" y="263" width="1" height="4" fill="#a8c0cc"/>
<rect x="787" y="263" width="1" height="2" fill="#b0c4d4"/>
<rect x="788" y="263" width="2" height="13" fill="#a8c0cc"/>
<rect x="790" y="263" width="1" height="12" fill="#bcd0b4"/>
<rect x="791" y="263" width="1" height="8" fill="#c4c0d0"/>
<rect x="793" y="263" width="1" height="16" fill="#d0bcb4"/>
<rect x="795" y="263" width="2" height="2" fill="#c8c4b8"/>
<rect x="797" y="263" width="1" height="13" fill="#c8bcd0"/>
<rect x="798" y="263" width="1" height="14" fill="#c8bcd0"/>
<rect x="800" y="249" width="1" height="21" fill="#a8c0cc"/>
<rect x="801" y="249" width="2" height="17" fill="#c8bcd0"/>
<rect x="803" y="249" width="1" height="21" fill="#bcd0b4"/>
<rect x="804" y="249" width="1" height="4" fill="#b8d0b8"/>
<rect x="805" y="249" width="1" height="14" fill="#b4ccb0"/>
<rect x="806" y="249" width="2" height="25" fill="#c8c4b8"/>
<rect x="808" y="249" width="1" height="15" fill="#d0bcb4"/>
<rect x="809" y="249" width="2" height="5" fill="#b4ccb0"/>
<rect x="811" y="249" width="1" height="3" fill="#c8bcd0"/>
<rect x="812" y="249" width="2" height="4" fill="#c4c0d0"/>
<rect x="814" y="249" width="1" height="2" fill="#c8c4b8"/>
<rect x="815" y="249" width="2" height="21" fill="#b8d0b8"/>
<rect x="817" y="249" width="1" height="11" fill="#d0bcb4"/>
<rect x="818" y="249" width="1" height="11" fill="#b8d0b8"/>
<rect x="819" y="249" width="1" height="10" fill="#bcd0b4"/>
<rect x="823" y="249" width="1" height="20" fill="#c4c0d0"/>
<rect x="824" y="249" width="1" height="12" fill="#b4ccb0"/>
<rect x="825" y="249" width="1" height="26" fill="#c4c0d0"/>
<rect x="826" y="249" width="1" height="6" fill="#d0bcb4"/>
<rect x="831" y="249" width="3" height="6" fill="#a8c0cc"/>
<rect x="836" y="249" width="2" height="27" fill="#c8c4b8"/>
<rect x="838" y="249" width="1" height="30" fill="#bcd0b4"/>
<rect x="839" y="249" width="1" height="14" fill="#b4ccb0"/>
<rect x="840" y="249" width="3" height="18" fill="#c4c0d0"/>
<rect x="845" y="241" width="1" height="22" fill="#bcd0b4"/>
<rect x="846" y="241" width="2" height="4" fill="#c8bcd0"/>
<rect x="848" y="241" width="1" height="9" fill="#b8d0b8"/>
<rect x="849" y="241" width="1" height="11" fill="#c4c0d0"/>
<rect x="850" y="241" width="2" height="8" fill="#a8c0cc"/>
<rect x="852" y="241" width="1" height="8" fill="#b0c4d4"/>
<rect x="853" y="241" width="2" height="4" fill="#b0c4d4"/>
<rect x="855" y="241" width="2" height="29" fill="#bcd0b4"/>
<rect x="857" y="241" width="1" height="2" fill="#c8c4b8"/>
<rect x="858" y="241" width="1" height="20" fill="#a8c0cc"/>
<rect x="860" y="241" width="2" height="26" fill="#d0bcb4"/>
<rect x="862" y="241" width="1" height="27" fill="#b4ccb0"/>
<rect x="863" y="241" width="1" height="5" fill="#b4ccb0"/>
<rect x="864" y="241" width="1" height="15" fill="#b4ccb0"/>
<rect x="865" y="241" width="1" height="9" fill="#c8bcd0"/>
<rect x="866" y="241" width="3" height="19" fill="#b0c4d4"/>
<rect x="869" y="241" width="1" height="18" fill="#c4c0d0"/>
<rect x="871" y="241" width="2" height="9" fill="#d0bcb4"/>
<rect x="875" y="241" width="1" height="8" fill="#bcd0b4"/>
<rect x="876" y="241" width="1" height="2" fill="#b8d0b8"/>
<rect x="877" y="241" width="2" height="22" fill="#b0c4d4"/>
<rect x="879" y="241" width="3" height="29" fill="#bcd0b4"/>
<rect x="882" y="241" width="2" height="18" fill="#c8c4b8"/>
<rect x="884" y="241" width="1" height="5" fill="#d0bcb4"/>
<rect x="885" y="241" width="1" height="2" fill="#d0bcb4"/>
<rect x="887" y="255" width="1" height="19" fill="#bcd0b4"/>
<rect x="889" y="255" width="1" height="3" fill="#bcd0b4"/>
<rect x="890" y="255" width="2" height="7" fill="#d0bcb4"/>
<rect x="892" y="255" width="1" height="5" fill="#c8bcd0"/>
<rect x="893" y="255" width="1" height="2" fill="#d0bcb4"/>
<rect x="894" y="255" width="1" height="2" fill="#d0bcb4"/>
<rect x="895" y="255" width="1" height="11" fill="#b0c4d4"/>
<rect x="896" y="255" width="2" height="26" fill="#a8c0cc"/>
<rect x="898" y="255" width="1" height="6" fill="#c8c4b8"/>
<rect x="899" y="255" width="2" height="23" fill="#c4c0d0"/>
<rect x="901" y="255" width="3" height="15" fill="#c8c4b8"/>
<rect x="904" y="255" width="1" height="29" fill="#a8c0cc"/>
<rect x="905" y="255" width="3" height="13" fill="#d0bcb4"/>
<rect x="908" y="255" width="1" height="24" fill="#b8d0b8"/>
<rect x="911" y="255" width="2" height="3" fill="#c8bcd0"/>
<rect x="913" y="255" width="1" height="7" fill="#b4ccb0"/>
<rect x="914" y="255" width="1" height="5" fill="#b0c4d4"/>
<rect x="915" y="255" width="3" height="12" fill="#c8bcd0"/>
<rect x="918" y="255" width="2" height="13" fill="#c8bcd0"/>
<rect x="920" y="255" width="1" height="13" fill="#c8c4b8"/>
<rect x="921" y="255" width="1" height="26" fill="#c8c4b8"/>
<rect x="922" y="255" width="3" height="8" fill="#c4c0d0"/>
<rect x="926" y="255" width="1" height="18" fill="#b0c4d4"/>
<rect x="927" y="255" width="1" height="8" fill="#c8bcd0"/>
<rect x="928" y="255" width="2" height="5" fill="#c8c4b8"/>
<rect x="930" y="255" width="3" height="12" fill="#c4c0d0"/>
<rect x="935" y="255" width="1" height="10" fill="#b8d0b8"/>
<rect x="936" y="255" width="1" height="25" fill="#b8d0b8"/>
<rect x="937" y="255" width="1" height="8" fill="#d0bcb4"/>
<rect x="938" y="255" width="1" height="5" fill="#c8c4b8"/>
<rect x="939" y="255" width="1" height="21" fill="#c4c0d0"/>
<rect x="942" y="255" width="3" height="16" fill="#b0c4d4"/>
<rect x="968" y="249" width="1" height="8" fill="#b0c4d4"/>
<rect x="969" y="249" width="1" height="29" fill="#b8d0b8"/>
<rect x="970" y="249" width="2" height="21" fill="#c4c0d0"/>
<rect x="972" y="249" width="1" height="9" fill="#d0bcb4"/>
<rect x="975" y="249" width="1" height="18" fill="#a8c0cc"/>
<rect x="976" y="249" width="1" height="7" fill="#c8bcd0"/>
<rect x="977" y="249" width="1" height="26" fill="#c8bcd0"/>
<rect x="978" y="249" width="2" height="2" fill="#b8d0b8"/>
<rect x="980" y="249" width="3" height="8" fill="#d0bcb4"/>
<rect x="984" y="249" width="2" height="4" fill="#b0c4d4"/>
<rect x="986" y="249" width="1" height="23" fill="#c8bcd0"/>
<rect x="988" y="249" width="2" height="6" fill="#b4ccb0"/>
<rect x="990" y="249" width="1" height="3" fill="#d0bcb4"/>
<rect x="991" y="249" width="1" height="2" fill="#bcd0b4"/>
<rect x="992" y="249" width="1" height="13" fill="#c4c0d0"/>
<rect x="993" y="249" width="1" height="20" fill="#a8c0cc"/>
<rect x="994" y="249" width="1" height="11" fill="#bcd0b4"/>
<rect x="995" y="249" width="2" height="9" fill="#c8bcd0"/>
<rect x="997" y="249" width="2" height="4" fill="#b0c4d4"/>
<rect x="999" y="249" width="1" height="6" fill="#bcd0b4"/>
<rect x="1000" y="249" width="2" height="28" fill="#b4ccb0"/>
<rect x="1003" y="249" width="1" height="17" fill="#b0c4d4"/>
<rect x="1004" y="249" width="1" height="13" fill="#a8c0cc"/>
<rect x="1006" y="241" width="2" height="31" fill="#a8c0cc"/>
<rect x="1008" y="241" width="1" height="14" fill="#bcd0b4"/>
<rect x="1009" y="241" width="3" height="7" fill="#c8bcd0"/>
<rect x="1016" y="241" width="2" height="22" fill="#b0c4d4"/>
<rect x="1018" y="241" width="2" height="16" fill="#bcd0b4"/>
<rect x="1020" y="241" width="1" height="9" fill="#b0c4d4"/>
<rect x="1021" y="241" width="1" height="12" fill="#b0c4d4"/>
<rect x="1022" y="241" width="1" height="20" fill="#a8c0cc"/>
<rect x="1023" y="241" width="1" height="24" fill="#bcd0b4"/>
<rect x="1025" y="241" width="2" height="4" fill="#c8c4b8"/>
<rect x="1027" y="241" width="1" height="9" fill="#c4c0d0"/>
<rect x="1028" y="241" width="2" height="10" fill="#b4ccb0"/>
<rect x="1030" y="241" width="2" height="35" fill="#bcd0b4"/>
<rect x="1033" y="241" width="1" height="17" fill="#c8c4b8"/>
<rect x="1034" y="241" width="2" height="34" fill="#b8d0b8"/>
<rect x="1039" y="241" width="1" height="35" fill="#c8c4b8"/>
<rect x="1044" y="241" width="3" height="19" fill="#bcd0b4"/>
<rect x="1047" y="241" width="2" height="31" fill="#d0bcb4"/>
<rect x="1051" y="241" width="1" height="24" fill="#b8d0b8"/>
<rect x="1052" y="241" width="2" height="10" fill="#d0bcb4"/>
<rect x="1054" y="241" width="2" height="17" fill="#b4ccb0"/>
<rect x="1058" y="253" width="2" height="7" fill="#b4ccb0"/>
<rect x="1060" y="253" width="2" height="5" fill="#c8bcd0"/>
<rect x="1062" y="253" width="2" height="4" fill="#c8c4b8"/>
<rect x="1064" y="253" width="1" height="20" fill="#d0bcb4"/>
<rect x="1066" y="253" width="1" height="17" fill="#a8c0cc"/>
<rect x="1067" y="253" width="1" height="18" fill="#c4c0d0"/>
<rect x="1068" y="253" width="1" height="8" fill="#b0c4d4"/>
<rect x="1069" y="253" width="1" height="2" fill="#c8c4b8"/>
<rect x="1070" y="253" width="1" height="5" fill="#bcd0b4"/>
<rect x="1071" y="253" width="2" height="6" fill="#b8d0b8"/>
<rect x="1074" y="253" width="1" height="9" fill="#b8d0b8"/>
<rect x="1075" y="253" width="1" height="8" fill="#b4ccb0"/>
<rect x="1078" y="253" width="1" height="2" fill="#c8c4b8"/>
<rect x="1079" y="253" width="1" height="2" fill="#c8c4b8"/>
<rect x="1081" y="253" width="1" height="10" fill="#b4ccb0"/>
<rect x="1082" y="253" width="3" height="18" fill="#a8c0cc"/>
<rect x="1086" y="253" width="1" height="5" fill="#bcd0b4"/>
<rect x="1087" y="253" width="2" height="6" fill="#b4ccb0"/>
<rect x="1089" y="253" width="1" height="16" fill="#b0c4d4"/>
<rect x="1090" y="253" width="3" height="12" fill="#c4c0d0"/>
<rect x="1093" y="253" width="1" height="9" fill="#b4ccb0"/>
<rect x="1094" y="253" width="1" height="4" fill="#c8c4b8"/>
<rect x="1095" y="253" width="2" height="4" fill="#b4ccb0"/>
<rect x="1097" y="253" width="1" height="13" fill="#c8c4b8"/>
<rect x="1098" y="253" width="1" height="3" fill="#a8c0cc"/>
<rect x="1099" y="253" width="3" height="5" fill="#d0bcb4"/>
<rect x="1102" y="253" width="1" height="8" fill="#a8c0cc"/>
<rect x="1103" y="253" width="1" height="6" fill="#b8d0b8"/>
<rect x="1104" y="253" width="2" height="2" fill="#b0c4d4"/>
<rect x="1106" y="253" width="1" height="7" fill="#b8d0b8"/>
<rect x="1107" y="253" width="2" height="6" fill="#bcd0b4"/>
<rect x="1109" y="253" width="2" height="5" fill="#c8c4b8"/>
<rect x="1111" y="253" width="1" height="11" fill="#b0c4d4"/>
<rect x="1253" y="234" width="1" height="2" fill="#bcd0b4"/>
<rect x="1254" y="234" width="1" height="3" fill="#b0c4d4"/>
<rect x="1255" y="234" width="2" height="7" fill="#a8c0cc"/>
<rect x="1257" y="234" width="2" height="10" fill="#bcd0b4"/>
<rect x="1259" y="234" width="1" height="2" fill="#b4ccb0"/>
<rect x="1260" y="234" width="3" height="18" fill="#b4ccb0"/>
<rect x="1263" y="234" width="3" height="10" fill="#c8c4b8"/>
<rect x="1266" y="234" width="1" height="6" fill="#b4ccb0"/>
<rect x="1268" y="234" width="2" height="4" fill="#c8bcd0"/>
<rect x="1270" y="234" width="3" height="2" fill="#b8d0b8"/>
<rect x="1273" y="234" width="3" height="17" fill="#bcd0b4"/>
<rect x="1278" y="234" width="1" height="24" fill="#c8bcd0"/>
<rect x="1279" y="234" width="2" height="22" fill="#b4ccb0"/>
<rect x="1282" y="234" width="3" height="20" fill="#b0c4d4"/>
<rect x="1285" y="234" width="3" height="20" fill="#a8c0cc"/>
<rect x="1287" y="221" width="2" height="2" fill="#c8c4b8"/>
<rect x="1289" y="221" width="1" height="6" fill="#c8bcd0"/>
<rect x="1292" y="221" width="1" height="8" fill="#a8c0cc"/>
<rect x="1293" y="221" width="1" height="2" fill="#a8c0cc"/>
<rect x="1294" y="221" width="2" height="4" fill="#bcd0b4"/>
<rect x="1296" y="221" width="1" height="7" fill="#bcd0b4"/>
<rect x="1297" y="221" width="2" height="9" fill="#b8d0b8"/>
<rect x="1301" y="221" width="2" height="21" fill="#c8bcd0"/>
<rect x="1303" y="221" width="1" height="11" fill="#a8c0cc"/>
<rect x="1306" y="221" width="1" height="16" fill="#d0bcb4"/>
<rect x="1307" y="221" width="1" height="11" fill="#d0bcb4"/>
<rect x="1308" y="221" width="1" height="19" fill="#c8bcd0"/>
<rect x="1312" y="221" width="1" height="4" fill="#bcd0b4"/>
<rect x="1313" y="221" width="1" height="12" fill="#d0bcb4"/>
<rect x="1315" y="221" width="1" height="18" fill="#c4c0d0"/>
<rect x="1318" y="221" width="1" height="4" fill="#b0c4d4"/>
<rect x="1319" y="221" width="1" height="7" fill="#b8d0b8"/>
<rect x="1320" y="221" width="2" height="7" fill="#b8d0b8"/>
<rect x="1322" y="221" width="1" height="17" fill="#b4ccb0"/>
<rect x="1323" y="221" width="1" height="9" fill="#d0bcb4"/>
<rect x="1324" y="221" width="1" height="13" fill="#b4ccb0"/>
<rect x="1325" y="221" width="1" height="20" fill="#c8bcd0"/>
<rect x="1326" y="221" width="3" height="14" fill="#c8c4b8"/>
<rect x="1329" y="221" width="2" height="2" fill="#c8c4b8"/>
<rect x="1331" y="221" width="1" height="10" fill="#c8c4b8"/>
<rect x="1332" y="221" width="1" height="14" fill="#b4ccb0"/>
<rect x="1333" y="221" width="1" height="2" fill="#c8c4b8"/>
<rect x="1335" y="221" width="1" height="4" fill="#d0bcb4"/>
<rect x="1339" y="221" width="2" height="10" fill="#a8c0cc"/>
<rect x="1341" y="221" width="1" height="3" fill="#b0c4d4"/>
<rect x="1342" y="221" width="1" height="2" fill="#c4c0d0"/>
<rect x="1343" y="221" width="1" height="2" fill="#b8d0b8"/>
<rect x="1344" y="221" width="1" height="2" fill="#c4c0d0"/>
<rect x="1345" y="221" width="1" height="2" fill="#bcd0b4"/>
<rect x="1346" y="221" width="2" height="16" fill="#b8d0b8"/>
<rect x="1348" y="221" width="2" height="11" fill="#a8c0cc"/>
<rect x="1351" y="221" width="2" height="2" fill="#b8d0b8"/>
<rect x="1353" y="221" width="3" height="2" fill="#c8c4b8"/>
<rect x="1360" y="221" width="1" height="9" fill="#a8c0cc"/>
<rect x="1361" y="221" width="3" height="5" fill="#c8bcd0"/>
<rect x="1365" y="221" width="1" height="5" fill="#c4c0d0"/>
<rect x="1366" y="221" width="1" height="4" fill="#d0bcb4"/>
<rect x="1368" y="221" width="2" height="13" fill="#b8d0b8"/>
<rect x="1370" y="221" width="2" height="15" fill="#c8bcd0"/>
<rect x="1372" y="221" width="2" height="14" fill="#c4c0d0"/>
<rect x="1394" y="216" width="2" height="2" fill="#c4c0d0"/>
<rect x="1396" y="216" width="3" height="6" fill="#c8bcd0"/>
<rect x="1399" y="216" width="3" height="6" fill="#b8d0b8"/>
<rect x="1403" y="216" width="1" height="12" fill="#c8c4b8"/>
<rect x="1407" y="216" width="2" height="11" fill="#b0c4d4"/>
<rect x="1409" y="216" width="2" height="2" fill="#a8c0cc"/>
<rect x="1425" y="217" width="2" height="8" fill="#c8bcd0"/>
<rect x="1427" y="217" width="2" height="2" fill="#c4c0d0"/>
<rect x="1429" y="217" width="2" height="6" fill="#c4c0d0"/>
<rect x="2336" y="206" width="2" height="5" fill="#c8c4b8"/>
<rect x="2338" y="206" width="1" height="4" fill="#bcd0b4"/>
<rect x="2343" y="206" width="1" height="2" fill="#c4c0d0"/>
<rect x="2345" y="206" width="1" height="4" fill="#b0c4d4"/>
<rect x="2351" y="206" width="1" height="2" fill="#c8bcd0"/>
<rect x="2353" y="206" width="1" height="2" fill="#b8d0b8"/>
<rect x="2354" y="206" width="1" height="2" fill="#b0c4d4"/>
<rect x="2355" y="206" width="2" height="2" fill="#c8bcd0"/>
<rect x="2366" y="206" width="1" height="3" fill="#c8c4b8"/>
<rect x="2371" y="206" width="3" height="4" fill="#c8bcd0"/>
<rect x="2383" y="206" width="1" height="2" fill="#c8c4b8"/>
<rect x="2384" y="206" width="1" height="4" fill="#a8c0cc"/>
<rect x="2385" y="206" width="1" height="3" fill="#c8bcd0"/>
<rect x="2386" y="206" width="2" height="3" fill="#c4c0d0"/>
<rect x="2392" y="206" width="2" height="4" fill="#b4ccb0"/>
<rect x="2396" y="206" width="2" height="5" fill="#b0c4d4"/>
<rect x="2398" y="206" width="1" height="2" fill="#c4c0d0"/>
<rect x="2407" y="206" width="2" height="2" fill="#c8bcd0"/>
<rect x="2410" y="206" width="1" height="2" fill="#b0c4d4"/>
<rect x="2421" y="206" width="1" height="5" fill="#bcd0b4"/>
<rect x="2424" y="206" width="2" height="2" fill="#d0bcb4"/>
<rect x="1626" y="212" width="1" height="3" fill="#bcd0b4"/>
<rect x="1627" y="212" width="3" height="2" fill="#a8c0cc"/>
<rect x="1633" y="212" width="1" height="3" fill="#c4c0d0"/>
<rect x="1643" y="212" width="3" height="4" fill="#b4ccb0"/>
<rect x="1651" y="212" width="1" height="2" fill="#b8d0b8"/>
<rect x="1653" y="212" width="1" height="2" fill="#c8c4b8"/>
<rect x="1664" y="212" width="1" height="4" fill="#c4c0d0"/>
<rect x="1668" y="212" width="1" height="2" fill="#a8c0cc"/>
<rect x="1676" y="212" width="1" height="2" fill="#a8c0cc"/>
<rect x="1692" y="212" width="1" height="2" fill="#b4ccb0"/>
<rect x="1741" y="212" width="2" height="3" fill="#c8bcd0"/>
<rect x="1757" y="212" width="3" height="2" fill="#c8bcd0"/>
<rect x="1760" y="212" width="2" height="2" fill="#b4ccb0"/>
<rect x="1794" y="212" width="1" height="2" fill="#bcd0b4"/>
<rect x="1855" y="212" width="1" height="2" fill="#b8d0b8"/>
<rect x="1856" y="212" width="1" height="4" fill="#c8bcd0"/>
<rect x="1873" y="212" width="1" height="2" fill="#d0bcb4"/>
<rect x="1885" y="212" width="2" height="2" fill="#b4ccb0"/>
<rect x="1895" y="212" width="3" height="2" fill="#b4ccb0"/>
<rect x="1935" y="212" width="3" height="2" fill="#bcd0b4"/>
<rect x="2000" y="212" width="2" height="3" fill="#bcd0b4"/>
<rect x="2020" y="212" width="1" height="4" fill="#c8c4b8"/>
<rect x="2042" y="212" width="2" height="2" fill="#d0bcb4"/>
<rect x="2044" y="212" width="1" height="2" fill="#c4c0d0"/>
<rect x="2049" y="212" width="1" height="3" fill="#c8bcd0"/>
<rect x="2059" y="212" width="1" height="4" fill="#b4ccb0"/>
<rect x="2113" y="212" width="2" height="2" fill="#c8c4b8"/>
<rect x="2117" y="212" width="2" height="2" fill="#b4ccb0"/>
<rect x="2136" y="212" width="1" height="2" fill="#c4c0d0"/>
<rect x="2164" y="212" width="2" height="2" fill="#bcd0b4"/>
<rect x="2168" y="212" width="1" height="2" fill="#c8c4b8"/>
<rect x="2175" y="212" width="1" height="2" fill="#d0bcb4"/>
<rect x="194" y="270" width="18" height="36" fill="#b0ccb8"/>
<rect x="213" y="271" width="2" height="29" fill="#a8c0d4"/>
<rect x="215" y="271" width="2" height="19" fill="#a8c0d4"/>
<rect x="218" y="271" width="2" height="46" fill="#a8c0d4"/>
<rect x="221" y="271" width="2" height="25" fill="#a8c0d4"/>
<rect x="223" y="271" width="2" height="34" fill="#a8c0d4"/>
<rect x="2692" y="199.5" width="62" height="10" fill="#b4d0a8"/>
<rect x="2701" y="209.5" width="39" height="10" fill="#b8d0ac"/>
<rect x="2702" y="217.5" width="30" height="2" fill="#d4c0c0"/>
<rect x="2702" y="219.5" width="31" height="11.5" fill="#bcd4b0"/>
<rect x="2704" y="231" width="2" height="7" fill="#b4d0a8"/>
<rect x="2713" y="231" width="2" height="8" fill="#b4d0a8"/>
<rect x="2729" y="231" width="2" height="4" fill="#b4d0a8"/>
</g>
<rect x="2834" y="164" width="191" height="1" fill="#e6c2b4"/>
<rect x="3025" y="164" width="105" height="6" fill="#d4b8d4"/>
<rect x="3025" y="170" width="105" height="4" fill="#b8d0d0"/>
<rect x="2825" y="164" width="2" height="23" fill="#c4c4c4"/>
<rect x="3" y="165" width="1" height="20" fill="#b8bcbc"/>
<rect x="2754" y="185" width="73" height="2" fill="#c4c4c4"/>
<rect x="285" y="124" width="1" height="200" fill="#bdbdbd"/>
<rect x="568" y="124" width="1" height="200" fill="#bdbdbd"/>
<rect x="852" y="124" width="1" height="200" fill="#bdbdbd"/>
<rect x="1135" y="124" width="1" height="200" fill="#bdbdbd"/>
<rect x="1418" y="124" width="1" height="200" fill="#bdbdbd"/>
<rect x="1701" y="124" width="1" height="200" fill="#bdbdbd"/>
<rect x="1984" y="124" width="1" height="200" fill="#bdbdbd"/>
<rect x="2268" y="124" width="1" height="200" fill="#bdbdbd"/>
<rect x="2551" y="124" width="1" height="200" fill="#bdbdbd"/>
<rect x="2834" y="124" width="1" height="200" fill="#bdbdbd"/>
<rect x="3117" y="124" width="1" height="200" fill="#bdbdbd"/>
<rect x="3" y="324" width="3127" height="4" fill="#bdbdbd"/>
<rect x="3" y="328" width="3127" height="988" fill="#ffffff"/>
<rect x="3" y="369" width="3046" height="38" fill="#ade6e8"/>
<rect x="3" y="409" width="3046" height="38" fill="#bce8e9"/>
<rect x="3" y="449" width="3046" height="38" fill="#bce8e9"/>
<rect x="3" y="489" width="3046" height="38" fill="#ade6e8"/>
<rect x="3" y="529" width="3046" height="38" fill="#bce8e9"/>
<rect x="3" y="569" width="3046" height="38" fill="#bce8e9"/>
<rect x="3" y="609" width="3046" height="38" fill="#a0e1e8"/>
<rect x="3" y="649" width="3046" height="38" fill="#a0e1e8"/>
<rect x="3" y="689" width="3046" height="38" fill="#efc8f5"/>
<rect x="3" y="729" width="3046" height="38" fill="#afe3ea"/>
<rect x="3" y="769" width="3046" height="38" fill="#afe3ea"/>
<rect x="3" y="809" width="3046" height="38" fill="#d3eaee"/>
<rect x="3" y="849" width="3046" height="38" fill="#f6cfc6"/>
<rect x="3" y="889" width="3046" height="38" fill="#c0ecd2"/>
<rect x="3" y="929" width="3046" height="38" fill="#c0ecd2"/>
<rect x="3" y="969" width="3046" height="38" fill="#c0ecd2"/>
<rect x="3" y="1009" width="3046" height="38" fill="#efd4f6"/>
<rect x="3" y="1049" width="3046" height="38" fill="#f6cfc6"/>
<rect x="3" y="1089" width="3046" height="38" fill="#a0e1e8"/>
<rect x="3" y="1129" width="3046" height="38" fill="#eec8f5"/>
<rect x="3" y="1169" width="3046" height="38" fill="#a0e1e8"/>
<rect x="3" y="1209" width="3046" height="38" fill="#f6c0f2"/>
<rect x="3" y="1249" width="3046" height="38" fill="#eec0f5"/>
<rect x="3" y="1289" width="3046" height="38" fill="#f6cfc6"/>
<rect x="3051" y="369" width="79" height="38" fill="#fbbebf"/>
<rect x="3051" y="409" width="79" height="38" fill="#fbbebf"/>
<rect x="316" y="328" width="1" height="988" fill="#bdbdbd"/>
<rect x="629" y="328" width="1" height="988" fill="#bdbdbd"/>
<rect x="943" y="328" width="1" height="988" fill="#bdbdbd"/>
<rect x="1257" y="328" width="1" height="988" fill="#bdbdbd"/>
<rect x="1570" y="328" width="1" height="988" fill="#bdbdbd"/>
<rect x="1884" y="328" width="1" height="988" fill="#bdbdbd"/>
<rect x="2197" y="328" width="1" height="988" fill="#bdbdbd"/>
<rect x="2511" y="328" width="1" height="988" fill="#bdbdbd"/>
<rect x="2825" y="328" width="1" height="988" fill="#bdbdbd"/>
</g>
<g style="will-change:transform" shape-rendering="geometricPrecision">
<text x="619" y="53" font-family="Liberation Sans, sans-serif" font-size="29" fill="#0c0c0d" textLength="931" lengthAdjust="spacing">engwan-dev<tspan fill="#737373">:3000/h5bp/html5-boilerplate?performance_bar=flamegraph</tspan></text>
<text x="42.5" y="115" font-family="Liberation Mono, monospace" font-size="24" fill="#ffffff" stroke="#ffffff" stroke-width="0.45">Time Order</text>
<text x="242" y="115" font-family="Liberation Mono, monospace" font-size="24" fill="#ffffff" stroke="#ffffff" stroke-width="0.45">Left Heavy</text>
<text x="443.5" y="115" font-family="Liberation Mono, monospace" font-size="24" fill="#ffffff" stroke="#ffffff" stroke-width="0.45">Sandwich</text>
<text x="2611" y="115" font-family="Liberation Mono, monospace" font-size="24" fill="#ffffff" stroke="#ffffff" stroke-width="0.45">Export</text>
<text x="2752.5" y="115" font-family="Liberation Mono, monospace" font-size="24" fill="#ffffff" stroke="#ffffff" stroke-width="0.45">Import</text>
<text x="2903" y="115" font-family="Liberation Mono, monospace" font-size="24" fill="#ffffff" stroke="#ffffff" stroke-width="0.45">System</text>
<text x="3052" y="115" font-family="Liberation Mono, monospace" font-size="24" fill="#ffffff" stroke="#ffffff" stroke-width="0.45">Help</text>
<text x="0" y="0" font-family="Liberation Sans, sans-serif" font-weight="bold" font-size="25" fill="#e01b1b" transform="translate(3026,116.0) scale(0.78,1)">?</text>
<text x="1566" y="111" text-anchor="middle" font-family="Liberation Mono, monospace" font-size="24" fill="#ffffff" stroke="#ffffff" stroke-width="0.45">Flamegraph for /h5bp/html5-boilerplate</text>
<text x="275.0" y="149" text-anchor="end" font-family="Liberation Mono, monospace" font-size="20" fill="#000000">500.00ms</text>
<text x="558.0" y="149" text-anchor="end" font-family="Liberation Mono, monospace" font-size="20" fill="#000000">1.00s</text>
<text x="842.0" y="149" text-anchor="end" font-family="Liberation Mono, monospace" font-size="20" fill="#000000">1.50s</text>
<text x="1125.0" y="149" text-anchor="end" font-family="Liberation Mono, monospace" font-size="20" fill="#000000">2.00s</text>
<text x="1408.0" y="149" text-anchor="end" font-family="Liberation Mono, monospace" font-size="20" fill="#000000">2.50s</text>
<text x="1691.0" y="149" text-anchor="end" font-family="Liberation Mono, monospace" font-size="20" fill="#000000">3.00s</text>
<text x="1974.0" y="149" text-anchor="end" font-family="Liberation Mono, monospace" font-size="20" fill="#000000">3.50s</text>
<text x="2258.0" y="149" text-anchor="end" font-family="Liberation Mono, monospace" font-size="20" fill="#000000">4.00s</text>
<text x="2541.0" y="149" text-anchor="end" font-family="Liberation Mono, monospace" font-size="20" fill="#000000">4.50s</text>
<text x="2824.0" y="149" text-anchor="end" font-family="Liberation Mono, monospace" font-size="20" fill="#000000">5.00s</text>
<text x="3107.0" y="149" text-anchor="end" font-family="Liberation Mono, monospace" font-size="20" fill="#000000">5.50s</text>
<text x="306.0" y="353" text-anchor="end" font-family="Liberation Mono, monospace" font-size="20" fill="#000000">500.00ms</text>
<text x="619.0" y="353" text-anchor="end" font-family="Liberation Mono, monospace" font-size="20" fill="#000000">1.00s</text>
<text x="933.0" y="353" text-anchor="end" font-family="Liberation Mono, monospace" font-size="20" fill="#000000">1.50s</text>
<text x="1247.0" y="353" text-anchor="end" font-family="Liberation Mono, monospace" font-size="20" fill="#000000">2.00s</text>
<text x="1560.0" y="353" text-anchor="end" font-family="Liberation Mono, monospace" font-size="20" fill="#000000">2.50s</text>
<text x="1874.0" y="353" text-anchor="end" font-family="Liberation Mono, monospace" font-size="20" fill="#000000">3.00s</text>
<text x="2187.0" y="353" text-anchor="end" font-family="Liberation Mono, monospace" font-size="20" fill="#000000">3.50s</text>
<text x="2501.0" y="353" text-anchor="end" font-family="Liberation Mono, monospace" font-size="20" fill="#000000">4.00s</text>
<text x="2815.0" y="353" text-anchor="end" font-family="Liberation Mono, monospace" font-size="20" fill="#000000">4.50s</text>
<text x="12.5" y="398" font-family="Liberation Mono, monospace" font-size="20" fill="#000000">Puma::ThreadPool#spawn_thread</text>
<text x="12.5" y="438" font-family="Liberation Mono, monospace" font-size="20" fill="#000000">Puma::Server#process_client</text>
<text x="12.5" y="478" font-family="Liberation Mono, monospace" font-size="20" fill="#000000">Puma::Request#handle_request</text>
<text x="12.5" y="518" font-family="Liberation Mono, monospace" font-size="20" fill="#000000">Puma::ThreadPool#with_force_shutdown</text>
<text x="12.5" y="558" font-family="Liberation Mono, monospace" font-size="20" fill="#000000">Puma::Request#handle_request</text>
<text x="12.5" y="598" font-family="Liberation Mono, monospace" font-size="20" fill="#000000">Puma::Configuration::ConfigMiddleware#call</text>
<text x="12.5" y="638" font-family="Liberation Mono, monospace" font-size="20" fill="#000000">Rack::URLMap#call</text>
<text x="12.5" y="678" font-family="Liberation Mono, monospace" font-size="20" fill="#000000">Rack::URLMap#call</text>
<text x="12.5" y="718" font-family="Liberation Mono, monospace" font-size="20" fill="#000000">Gitlab::Middleware::ReleaseEnv#call</text>
<text x="12.5" y="758" font-family="Liberation Mono, monospace" font-size="20" fill="#000000">Rails::Railtie.method_missing</text>
<text x="12.5" y="798" font-family="Liberation Mono, monospace" font-size="20" fill="#000000">Rails::Engine#call</text>
<text x="12.5" y="838" font-family="Liberation Mono, monospace" font-size="20" fill="#000000">Raven::Rack#call</text>
<text x="12.5" y="878" font-family="Liberation Mono, monospace" font-size="20" fill="#000000">ActionDispatch::RequestId#call</text>
<text x="12.5" y="918" font-family="Liberation Mono, monospace" font-size="20" fill="#000000">Labkit::Middleware::Rack#call</text>
<text x="12.5" y="958" font-family="Liberation Mono, monospace" font-size="20" fill="#000000">Labkit::Context.with_context</text>
<text x="12.5" y="998" font-family="Liberation Mono, monospace" font-size="20" fill="#000000">Labkit::Middleware::Rack#call</text>
<text x="12.5" y="1038" font-family="Liberation Mono, monospace" font-size="20" fill="#000000">Gitlab::Metrics::RequestsRackMiddleware#call</text>
<text x="12.5" y="1078" font-family="Liberation Mono, monospace" font-size="20" fill="#000000">ActionDispatch::HostAuthorization#call</text>
<text x="12.5" y="1118" font-family="Liberation Mono, monospace" font-size="20" fill="#000000">Rack::Sendfile#call</text>
<text x="12.5" y="1158" font-family="Liberation Mono, monospace" font-size="20" fill="#000000">Gitlab::Middleware::RackMultipartTempfileFactory#call</text>
<text x="12.5" y="1198" font-family="Liberation Mono, monospace" font-size="20" fill="#000000">Rack::Proxy#call</text>
<text x="12.5" y="1238" font-family="Liberation Mono, monospace" font-size="20" fill="#000000">Gitlab::Webpack::DevServerMiddleware#perform_request</text>
<text x="12.5" y="1278" font-family="Liberation Mono, monospace" font-size="20" fill="#000000">Gitlab::Middleware::Static#call</text>
<text x="12.5" y="1318" font-family="Liberation Mono, monospace" font-size="20" fill="#000000">ActionDispatch::Static#call</text>
<text x="3061.3" y="398" font-family="Liberation Mono, monospace" font-size="20" fill="#000000">(g…n</text>
<text x="3061.3" y="438" font-family="Liberation Mono, monospace" font-size="20" fill="#000000">(s…g</text>
</g></svg></body></html>
